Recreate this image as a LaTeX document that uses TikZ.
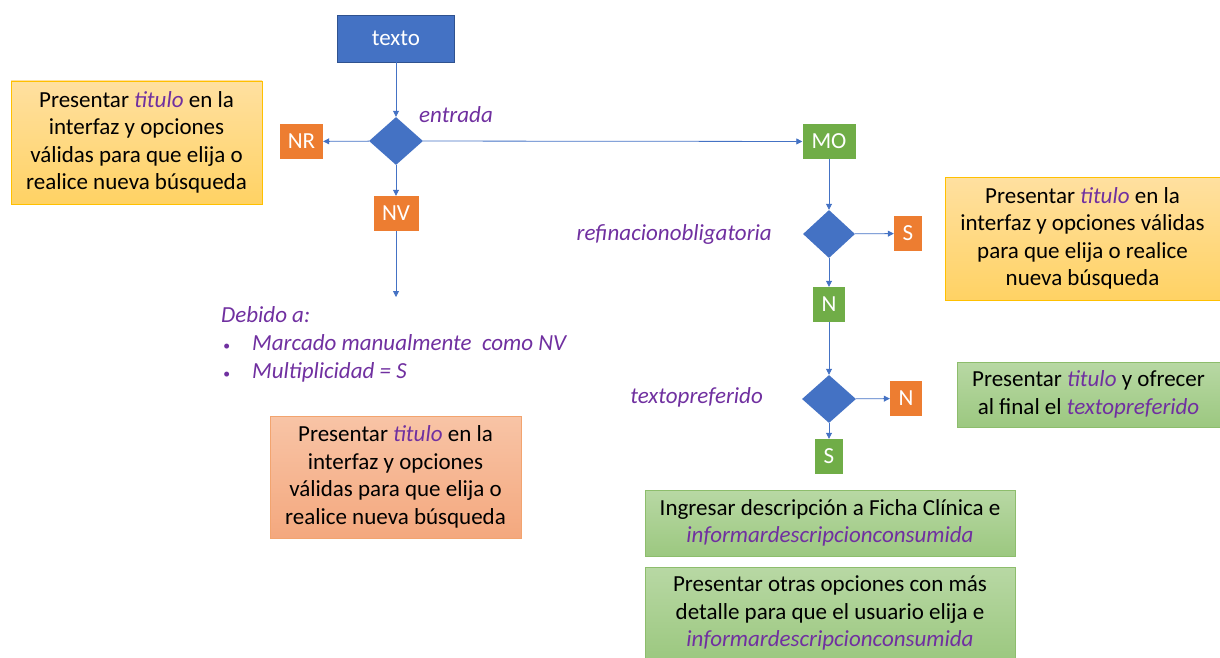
\documentclass[tikz,border=0pt]{standalone}
\usepackage{fontspec}
\setmainfont{Carlito}
\usetikzlibrary{shapes.geometric,arrows.meta}
\definecolor{azul}{HTML}{4472C4}
\definecolor{azulosc}{HTML}{2F528F}
\definecolor{naranja}{HTML}{ED7D31}
\definecolor{verde}{HTML}{70AD47}
\definecolor{morado}{HTML}{7030A0}
\definecolor{oro}{HTML}{FFC000}
\newcommand{\var}[1]{\textcolor{morado}{\itshape #1}}
\newcommand{\vineta}{\makebox[31pt][l]{\hspace{2pt}{\fontsize{14}{14}\selectfont\textbullet}}}
\tikzset{
  flecha/.style={-{Triangle[length=6pt,width=6pt]}, azul, line width=0.8pt},
  etiqueta/.style={inner sep=0pt, minimum height=35pt, text=white, font=\fontsize{23}{26}\selectfont},
  opcno/.style={etiqueta, fill=naranja},
  opcsi/.style={etiqueta, fill=verde},
  rombo/.style={diamond, fill=azul, inner sep=0pt, minimum width=54pt, minimum height=48pt},
  pregunta/.style={text=morado, font=\fontsize{23}{26}\selectfont\itshape, inner sep=0pt},
  cajaama/.style={draw=oro, line width=0.8pt, top color={rgb,255:red,255;green,224;blue,160}, bottom color={rgb,255:red,255;green,210;blue,100}, align=center, font=\fontsize{23}{27.5}\selectfont, inner sep=0pt},
  cajaver/.style={draw=verde!80, line width=0.8pt, top color={rgb,255:red,184;green,216;blue,164}, bottom color={rgb,255:red,156;green,200;blue,128}, align=center, font=\fontsize{23}{27.5}\selectfont, inner sep=0pt},
  cajanar/.style={draw=naranja!70, line width=0.8pt, top color={rgb,255:red,248;green,196;blue,166}, bottom color={rgb,255:red,244;green,168;blue,126}, align=center, font=\fontsize{23}{27.5}\selectfont, inner sep=0pt}
}
\begin{document}
\begin{tikzpicture}[x=1pt,y=-1pt]
\useasboundingbox (0,0) rectangle (1220,658);
% rama izquierda
\node (texto) [fill=azul, draw=azulosc, text=white, minimum width=117pt, minimum height=47pt, inner sep=0pt, font=\fontsize{23}{26}\selectfont] at (396,38.5) {texto};
\node (rombo1) [rombo] at (396,141) {};
\node (entrada) [pregunta] at (456,115) {entrada};
\node (nr) [opcno, minimum width=43pt] at (301.5,141.5) {NR};
\node (nv) [opcno, minimum width=45pt] at (396,213.5) {NV};
\coordinate (finnv) at (396,297);
\node (msgnr) [cajaama, minimum width=251pt, minimum height=123pt] at (136.5,142.5) {Presentar \var{titulo} en la\\interfaz y opciones\\válidas para que elija o\\realice nueva búsqueda};
\node (debido) [anchor=north west, align=left, text=morado, inner sep=0pt, font=\fontsize{23}{28}\selectfont\itshape] at (221,306) {Debido a:\\\vineta Marcado manualmente\ \ como NV\\\vineta Multiplicidad = S};
\node (msgnv) [cajanar, minimum width=251pt, minimum height=122pt] at (395.5,477) {Presentar \var{titulo} en la\\interfaz y opciones\\válidas para que elija o\\realice nueva búsqueda};
% rama derecha
\node (mo) [opcsi, minimum width=53pt] at (829,141.5) {MO};
\node (rombo2) [rombo, minimum width=52pt] at (829,234) {};
\node (refin) [pregunta, anchor=east] at (772,234) {refinacionobligatoria};
\node (s1) [opcno, minimum width=28pt] at (908,233.5) {S};
\node (n1) [opcsi, minimum width=32pt] at (829,304.5) {N};
\node (rombo3) [rombo] at (829,399) {};
\node (pref) [pregunta, anchor=east] at (763,397) {textopreferido};
\node (n2) [opcno, minimum width=32pt] at (906,398.5) {N};
\node (s2) [opcsi, minimum width=28pt] at (829,456.5) {S};
\node (msgs1) [cajaama, minimum width=275pt, minimum height=123pt] at (1082.5,238.5) {Presentar \var{titulo} en la\\interfaz y opciones válidas\\para que elija o realice\\nueva búsqueda};
\node (msgn2) [cajaver, minimum width=263pt, minimum height=65pt] at (1088.5,394.5) {Presentar \var{titulo} y ofrecer\\al final el \var{textopreferido}};
\node (ingresar) [cajaver, minimum width=370pt, minimum height=66pt] at (830,523) {Ingresar descripción a Ficha Clínica e\\\var{informardescripcionconsumida}};
\node (otras) [cajaver, minimum width=370pt, minimum height=92pt] at (830,613) {Presentar otras opciones con más\\detalle para que el usuario elija e\\\var{informardescripcionconsumida}};
% conectores
\draw [flecha] (texto) -- (rombo1);
\draw [flecha] (rombo1) -- (nr);
\draw [flecha] (rombo1) -- (nv);
\draw [flecha] (nv) -- (finnv);
\draw [flecha] (rombo1) -- (mo);
\draw [flecha] (mo) -- (rombo2);
\draw [flecha] (rombo2) -- (s1);
\draw [flecha] (rombo2) -- (n1);
\draw [flecha] (n1) -- (rombo3);
\draw [flecha] (rombo3) -- (n2);
\draw [flecha] (rombo3) -- (s2);
\end{tikzpicture}
\end{document}
